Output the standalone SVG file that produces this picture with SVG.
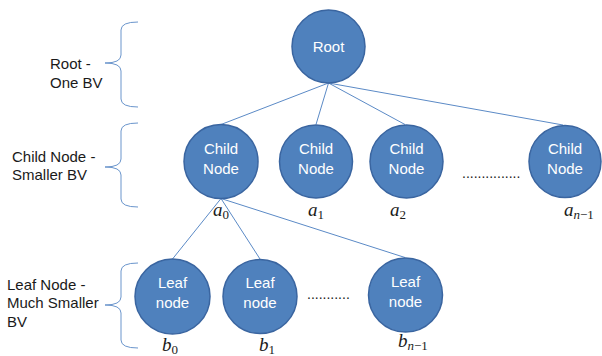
<svg xmlns="http://www.w3.org/2000/svg" width="602" height="356" viewBox="0 0 602 356">
  <style>
    .node { fill: #4f81bd; stroke: #3a65a0; stroke-width: 1.5; }
    .ntext { font-family: "Liberation Sans", Arial, sans-serif; font-size: 15px; fill: #ffffff; text-anchor: middle; }
    .label { font-family: "Liberation Sans", Arial, sans-serif; font-size: 15px; fill: #1a1a1a; }
    .edge { stroke: #5b8ac6; stroke-width: 1; fill: none; }
    .brace { stroke: #6a95cc; stroke-width: 1; fill: none; }
    .math { font-family: "Liberation Serif", "Times New Roman", serif; font-size: 19px; font-style: italic; fill: #1a1a1a; }
    .sub { font-size: 13px; font-style: normal; }
    .dots { font-family: "Liberation Sans", Arial, sans-serif; font-size: 14px; fill: #1a1a1a; }
  </style>

  <!-- level braces and captions -->
  <g id="level-labels">
    <path class="brace" d="M138,22 Q121,22 121,30 L121,55 Q121,63 105,63 Q121,63 121,71 L121,99 Q121,107 138,107"/>
    <text class="label" x="50" y="69">Root -</text>
    <text class="label" x="50" y="88">One BV</text>

    <path class="brace" d="M138,123 Q121,123 121,131 L121,159 Q121,167 105,167 Q121,167 121,175 L121,199 Q121,207 138,207"/>
    <text class="label" x="12" y="162">Child Node -</text>
    <text class="label" x="12" y="180">Smaller BV</text>

    <path class="brace" d="M138,263 Q121,263 121,271 L121,297 Q121,305 105,305 Q121,305 121,313 L121,340 Q121,348 138,348"/>
    <text class="label" x="7" y="290">Leaf Node -</text>
    <text class="label" x="7" y="308">Much Smaller</text>
    <text class="label" x="7" y="327">BV</text>
  </g>

  <!-- connectors -->
  <g id="edges">
    <line class="edge" x1="328.5" y1="83" x2="221" y2="124.5"/>
    <line class="edge" x1="328.5" y1="83" x2="316" y2="124.5"/>
    <line class="edge" x1="328.5" y1="83" x2="405" y2="124.5"/>
    <line class="edge" x1="328.5" y1="83" x2="563" y2="125"/>
    <line class="edge" x1="221" y1="198.5" x2="172.5" y2="259"/>
    <line class="edge" x1="221" y1="198.5" x2="260" y2="259"/>
    <line class="edge" x1="221" y1="198.5" x2="405" y2="257.5"/>
  </g>

  <g id="root">
    <circle class="node" cx="328.5" cy="46.5" r="36.5"/>
    <text class="ntext" x="328.5" y="52">Root</text>
  </g>

  <g id="child-a0">
    <circle class="node" cx="221" cy="161.5" r="37"/>
    <text class="ntext" x="221" y="154">Child</text>
    <text class="ntext" x="221" y="174">Node</text>
    <text class="math" x="213" y="216">a<tspan class="sub" dy="3">0</tspan></text>
  </g>

  <g id="child-a1">
    <circle class="node" cx="316" cy="161.5" r="36.5"/>
    <text class="ntext" x="316" y="154">Child</text>
    <text class="ntext" x="316" y="174">Node</text>
    <text class="math" x="308" y="216">a<tspan class="sub" dy="3">1</tspan></text>
  </g>

  <g id="child-a2">
    <circle class="node" cx="406.5" cy="161.5" r="36.5"/>
    <text class="ntext" x="406.5" y="154">Child</text>
    <text class="ntext" x="406.5" y="174">Node</text>
    <text class="math" x="390" y="216">a<tspan class="sub" dy="3">2</tspan></text>
  </g>

  <g id="child-dots">
    <text class="dots" x="462" y="178">...............</text>
  </g>

  <g id="child-an-1">
    <circle class="node" cx="565" cy="161.5" r="36"/>
    <text class="ntext" x="565" y="154">Child</text>
    <text class="ntext" x="565" y="174">Node</text>
    <text class="math" x="564" y="216">a<tspan class="sub" dy="3"><tspan font-style="italic">n</tspan>−1</tspan></text>
  </g>

  <g id="leaf-b0">
    <circle class="node" cx="172.5" cy="296.5" r="37.5"/>
    <text class="ntext" x="172.5" y="288">Leaf</text>
    <text class="ntext" x="172.5" y="308">node</text>
    <text class="math" x="162" y="351">b<tspan class="sub" dy="3">0</tspan></text>
  </g>

  <g id="leaf-b1">
    <circle class="node" cx="260" cy="296.5" r="37"/>
    <text class="ntext" x="260" y="288">Leaf</text>
    <text class="ntext" x="260" y="308">node</text>
    <text class="math" x="259" y="351">b<tspan class="sub" dy="3">1</tspan></text>
  </g>

  <g id="leaf-dots">
    <text class="dots" x="307" y="299">...........</text>
  </g>

  <g id="leaf-bn-1">
    <circle class="node" cx="405.5" cy="295" r="37"/>
    <text class="ntext" x="405.5" y="287">Leaf</text>
    <text class="ntext" x="405.5" y="307">node</text>
    <text class="math" x="398" y="347">b<tspan class="sub" dy="3"><tspan font-style="italic">n</tspan>−1</tspan></text>
  </g>
</svg>
